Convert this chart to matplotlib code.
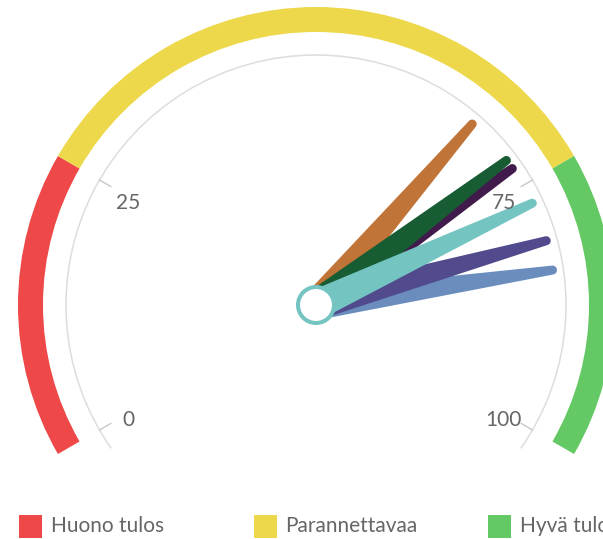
import numpy as np
import matplotlib
matplotlib.use('Agg')
import matplotlib.pyplot as plt
import matplotlib.patches as patches

plt.rcParams['font.family'] = ['Lato', 'DejaVu Sans']

# ----------------------- #
# Data
# ----------------------- #
band_names = ['Huono tulos', 'Parannettavaa', 'Hyvä tulos']
band_from = [0, 25, 75]
band_to = [25, 75, 100]
band_colors = ['#ef4848', '#edd84b', '#64c964']

tick_values = [0, 25, 75, 100]
tick_labels = ['0', '25', '75', '100']

# drawn in this order, last one on top
needle_values = [84, 81, 67, 73, 72, 77]
needle_colors = ['#6a8dbe', '#514a8d', '#c17438', '#401b4b', '#175c33', '#74c4c2']

# ----------------------- #
# Layout (pixels)
# ----------------------- #
W, H = 603, 539
cx, cy = 316, H - 305
start_angle, end_angle = 210, -30
axis_r = 250
band_outer, band_width = 298, 25
needle_len, base_hw, tip_hw = 239, 15, 4.5
text_color = '#666666'


def angle(v):
    return start_angle + (end_angle - start_angle) * v / 100.0


fig = plt.figure(figsize=(W / 100, H / 100), dpi=100)
ax = fig.add_axes([0, 0, 1, 1])
ax.set_xlim(0, W)
ax.set_ylim(0, H)
ax.set_aspect('equal')
ax.axis('off')

# colour bands
for f, t, c in zip(band_from, band_to, band_colors):
    ax.add_patch(patches.Wedge((cx, cy), band_outer, angle(t), angle(f),
                               width=band_width, color=c, lw=0))

# axis line, ticks and labels
ax.add_patch(patches.Arc((cx, cy), 2 * axis_r, 2 * axis_r, theta1=-35, theta2=215,
                         color='#dddddd', lw=1.1))
for v, lab in zip(tick_values, tick_labels):
    th = np.radians(angle(v))
    ax.plot([cx + axis_r * np.cos(th), cx + (axis_r - 13) * np.cos(th)],
            [cy + axis_r * np.sin(th), cy + (axis_r - 13) * np.sin(th)],
            color='#cccccc', lw=1.1)
    ax.text(cx + 217 * np.cos(th), cy + 217 * np.sin(th) - 6.5, lab,
            fontsize=15, color=text_color, ha='center', va='center')

# needles
def draw_needle(value, color):
    th = np.radians(angle(value))
    d = np.array([np.cos(th), np.sin(th)])
    n = np.array([-np.sin(th), np.cos(th)])
    c0 = np.array([cx, cy])
    pts = [c0 - n * base_hw]
    for a in np.linspace(-np.pi / 2, np.pi / 2, 25):
        pts.append(c0 + d * (needle_len + tip_hw * np.cos(a)) + n * (tip_hw * np.sin(a)))
    pts.append(c0 + n * base_hw)
    ax.add_patch(patches.Polygon(pts, closed=True, facecolor=color, edgecolor='none'))

for v, c in zip(needle_values, needle_colors):
    draw_needle(v, c)

# pivot
ax.add_patch(patches.Circle((cx, cy), 18, facecolor='white', edgecolor='#74c4c2', lw=2.9))

# legend
for i, (name, c) in enumerate(zip(band_names, band_colors)):
    x0 = 19 + i * 234.5
    ax.add_patch(patches.Rectangle((x0, H - 538), 23, 23, color=c, lw=0))
    ax.text(x0 + 32, H - 526, name, fontsize=15, color=text_color, ha='left', va='center')

plt.savefig('out.png', dpi=100)
